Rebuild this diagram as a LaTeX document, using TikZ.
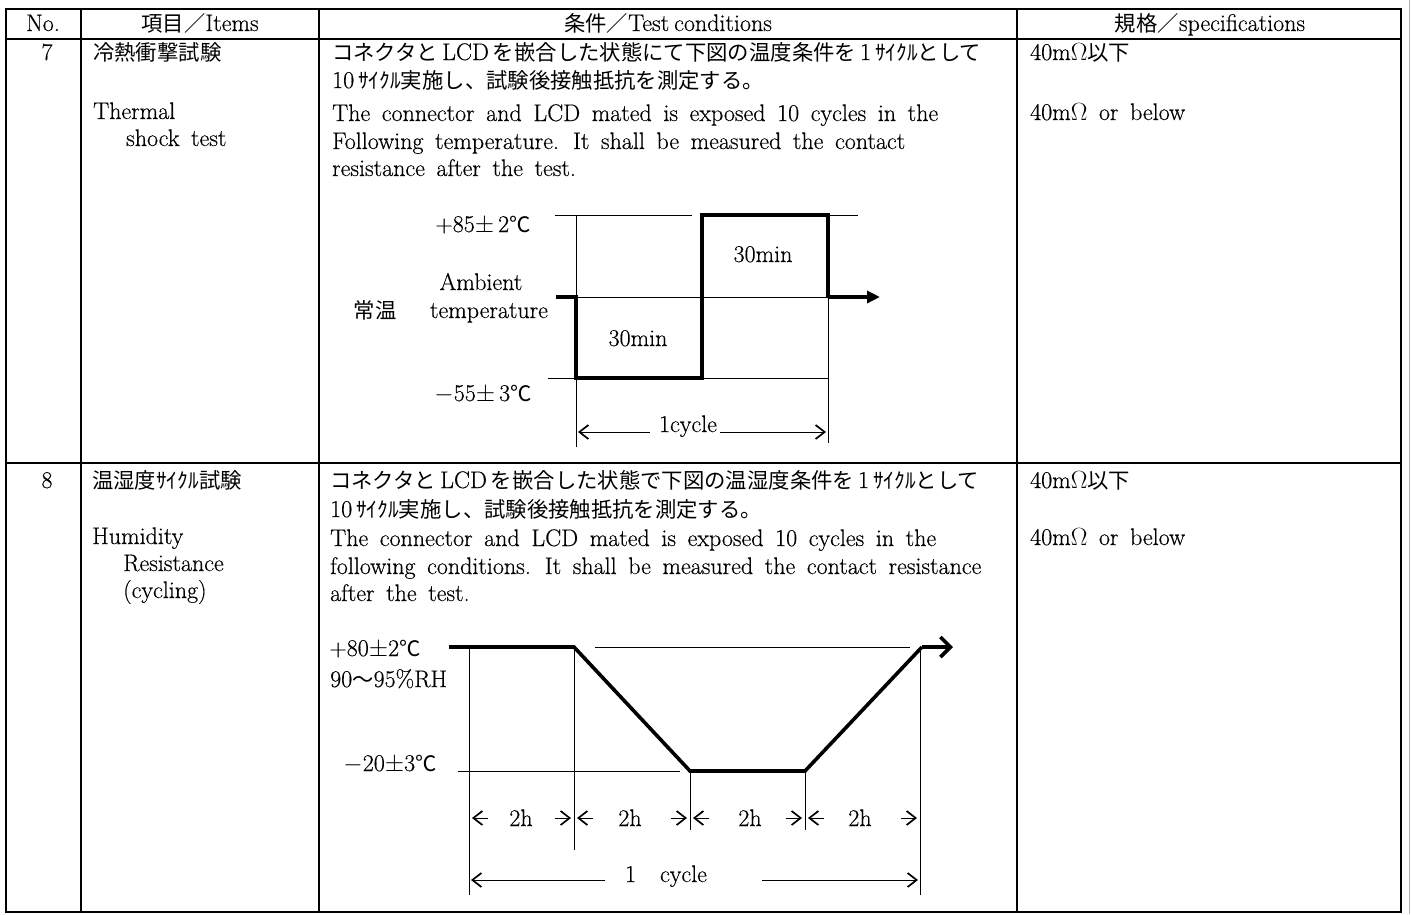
\documentclass[tikz,border=0pt]{standalone}
\usepackage{fontspec}
\setmainfont{Latin Modern Roman}[WordSpace=1.6, FakeBold=0.4]
\newfontfamily\cjk{Noto Sans CJK JP}[Scale=0.89]
\newcommand\jp[1]{{\cjk #1}}
\usetikzlibrary{arrows.meta}

\begin{document}
\begin{tikzpicture}[x=1pt,y=-1pt,
    txt/.style={anchor=base west,inner sep=0pt,font=\fontsize{24}{28}\selectfont},
    ctxt/.style={txt,anchor=base},
    grid/.style={line width=1.4pt},
    guide/.style={line width=0.9pt},
    wave/.style={line width=3.6pt},
    barb/.style={guide,-{Straight Barb[length=9pt,width=14pt,line width=1.7pt]}}]
    \useasboundingbox (0,0) rectangle (1411,914);
    % 绘制表格
    \draw[grid] (6,9) rectangle (1401,912);
    \draw[grid] (6,39) -- (1401,39);
    \draw[grid] (6,463) -- (1401,463);
    \foreach \x in {81,319,1017}
        \draw[grid] (\x,9) -- (\x,912);
    \draw[gray!60, line width=0.8pt] (1409.5,0) -- (1409.5,914);
    % 表头
    \node[ctxt] (hno) at (43,31) {No.};
    \node[ctxt] (hitem) at (200,31) {\jp{項目／}Items};
    \node[ctxt] (hcond) at (668,31) {\jp{条件／}Test\hspace{5pt}conditions};
    \node[ctxt] (hspec) at (1210,31) {\jp{規格／}specifications};
    % 第7行
    \node[ctxt] (no7) at (47,60) {7};
    \node[txt] (item7a) at (93,60) {\jp{冷熱衝撃試験}};
    \node[txt] (item7b) at (93,119) {Thermal};
    \node[txt] (item7c) at (126,146) {shock test};
    \node[txt] (cond7a) at (332,60) {\jp{コネクタと}\,LCD\,\jp{を嵌合した状態にて下図の温度条件を}\,1\,\jp{ｻｲｸﾙとして}};
    \node[txt] (cond7b) at (332,88) {10\,\jp{ｻｲｸﾙ実施し、試験後接触抵抗を測定する。}};
    \node[txt] (cond7c) at (332,121) {The connector and LCD mated is exposed 10 cycles in the};
    \node[txt] (cond7d) at (332,149) {Following temperature. It shall be measured the contact};
    \node[txt] (cond7e) at (332,176) {resistance after the test.};
    \node[txt] (spec7a) at (1030,60) {40m$\Omega$\jp{以下}};
    \node[txt] (spec7b) at (1030,120) {40m$\Omega$ or below};
    % 冷热冲击曲线
    \coordinate (a0) at (556,297);
    \coordinate (a1) at (576,297);
    \coordinate (a2) at (576,378);
    \coordinate (a3) at (702,378);
    \coordinate (a4) at (702,215);
    \coordinate (a5) at (828,215);
    \coordinate (a6) at (828,297);
    \coordinate (a7) at (880,297);
    \draw[guide] (555,215) -- (692,215);
    \draw[guide] (a5) -- (858,215);
    \draw[guide] (a1) -- (a6);
    \draw[guide] (548,378) -- (a2);
    \draw[guide] (a3) -- (828,378);
    \draw[guide] (576,215) -- (576,447);
    \draw[guide] (828,215) -- (828,443);
    \draw[wave, line join=miter] (a0) -- (a1) -- (a2) -- (a3) -- (a4) -- (a5) -- (a6);
    \draw[wave, -{Triangle[length=13pt,width=12pt]}] (a6) -- (a7);
    \draw[barb] (650,432) -- (578,432);
    \draw[barb] (720,432) -- (826,432);
    \node[ctxt] (hot7) at (483,232) {+85$\pm$\,2\jp{℃}};
    \node[ctxt] (amb7a) at (481,290) {Ambient};
    \node[ctxt] (amb7b) at (489,318) {temperature};
    \node[ctxt] (amb7c) at (375,318) {\jp{常温}};
    \node[ctxt] (hi7) at (763,262) {30min};
    \node[ctxt] (lo7) at (638,346) {30min};
    \node[ctxt] (cold7) at (483,401) {$-$55$\pm$\,3\jp{℃}};
    \node[ctxt] (cyc7) at (688,432) {1cycle};
    % 第8行
    \node[ctxt] (no8) at (47,488) {8};
    \node[txt] (item8a) at (92,488) {\jp{温湿度ｻｲｸﾙ試験}};
    \node[txt] (item8b) at (92,544) {Humidity};
    \node[txt] (item8c) at (123,571) {Resistance};
    \node[txt] (item8d) at (123,598) {(cycling)};
    \node[txt] (cond8a) at (330,488) {\jp{コネクタと}\,LCD\,\jp{を嵌合した状態で下図の温湿度条件を}\,1\,\jp{ｻｲｸﾙとして}};
    \node[txt] (cond8b) at (330,517) {10\,\jp{ｻｲｸﾙ実施し、試験後接触抵抗を測定する。}};
    \node[txt] (cond8c) at (330,546) {The connector and LCD mated is exposed 10 cycles in the};
    \node[txt] (cond8d) at (330,574) {following conditions. It shall be measured the contact resistance};
    \node[txt] (cond8e) at (330,601) {after the test.};
    \node[txt] (spec8a) at (1030,488) {40m$\Omega$\jp{以下}};
    \node[txt] (spec8b) at (1030,545) {40m$\Omega$ or below};
    % 温湿度曲线
    \coordinate (b0) at (449,647);
    \coordinate (b1) at (574,647);
    \coordinate (b2) at (690,771);
    \coordinate (b3) at (805,771);
    \coordinate (b4) at (922,647);
    \coordinate (b5) at (953,647);
    \draw[guide] (595,647) -- (910,647);
    \draw[guide] (458,771) -- (680,771);
    \draw[guide] (469,647) -- (469,895);
    \draw[guide] (574,647) -- (574,850);
    \draw[guide] (690,771) -- (690,830);
    \draw[guide] (805,771) -- (805,830);
    \draw[guide] (920,647) -- (920,895);
    \draw[wave] (b0) -- (b1) -- (b2) -- (b3) -- (b4);
    \draw[wave, -{Straight Barb[length=10pt,width=20pt]}] (b4) -- (b5);
    \foreach \l/\r/\m in {469/574/521, 574/690/630, 690/805/750, 805/920/860} {
        \draw[barb] (\l+19,818) -- (\l+3,818);
        \draw[barb] (\r-19,818) -- (\r-3,818);
        \node[ctxt] (h\m) at (\m,826) {2h};
    }
    \draw[barb] (605,880) -- (471,880);
    \draw[barb] (762,880) -- (918,880);
    \node[ctxt] (hot8) at (375,656) {+80$\pm$2\jp{℃}};
    \node[txt] (rh8) at (330,687) {90\jp{〜}95\%RH};
    \node[ctxt] (cold8) at (390,771) {$-$20$\pm$3\jp{℃}};
    \node[ctxt] (cyc8) at (666,882) {1\quad cycle};
\end{tikzpicture}
\end{document}
